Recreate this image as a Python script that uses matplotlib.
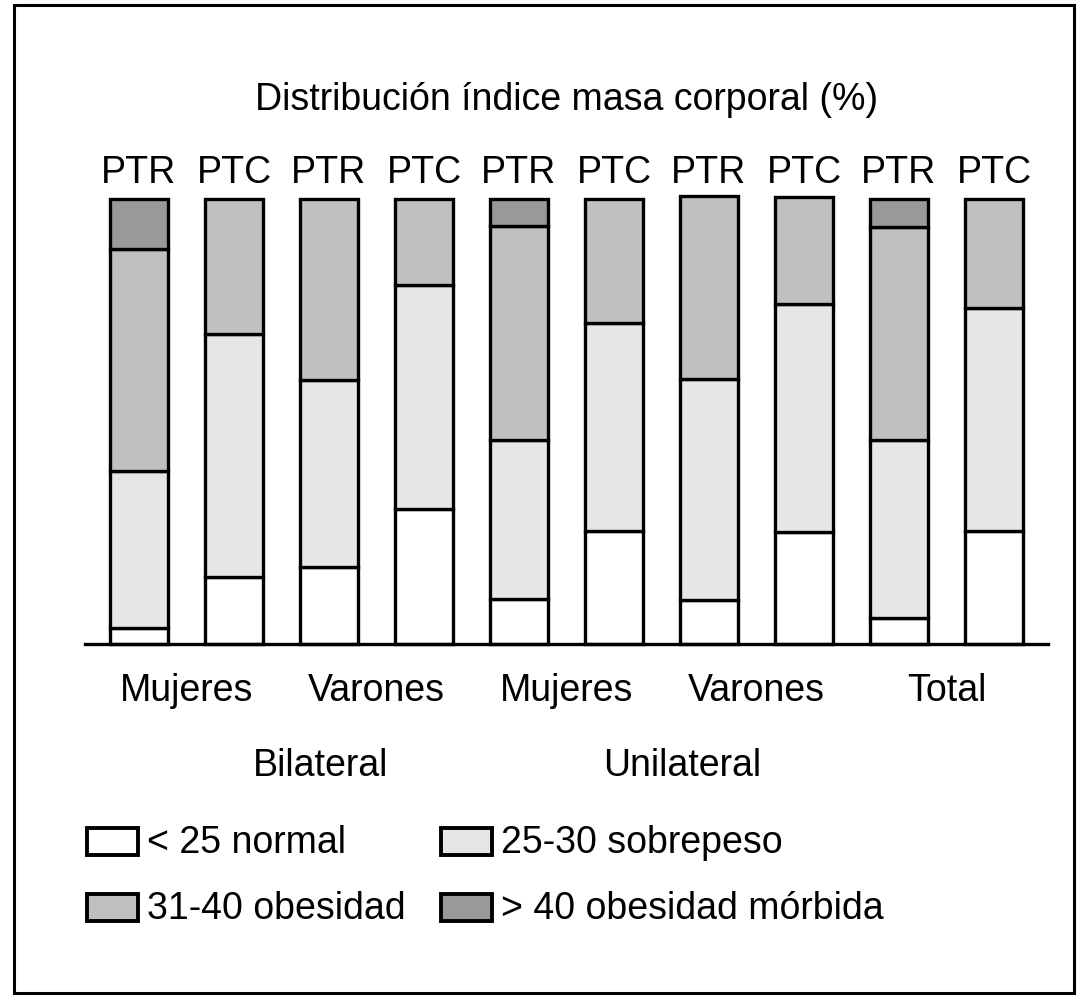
import matplotlib.pyplot as plt
import matplotlib.patches as mpatches
import numpy as np

plt.rcParams['font.family'] = ['Liberation Sans', 'DejaVu Sans']

# datos (%)
etiquetas = ['PTR', 'PTC', 'PTR', 'PTC', 'PTR', 'PTC', 'PTR', 'PTC', 'PTR', 'PTC']
grupos = ['Mujeres', 'Varones', 'Mujeres', 'Varones', 'Total']
normal = [3.6, 15.0, 17.3, 30.3, 10.1, 25.4, 9.9, 25.2, 5.8, 25.4]
sobrepeso = [35.3, 54.7, 42.0, 50.4, 35.7, 46.7, 49.7, 51.2, 40.0, 50.1]
obesidad = [49.9, 30.3, 40.7, 19.3, 48.1, 27.9, 41.1, 24.0, 47.9, 24.5]
morbida = [11.2, 0, 0, 0, 6.1, 0, 0, 0, 6.3, 0]

series = [normal, sobrepeso, obesidad, morbida]
colores = ['#ffffff', '#e6e6e6', '#c0c0c0', '#999999']
nombres = ['< 25 normal', '25-30 sobrepeso', '31-40 obesidad', '> 40 obesidad mórbida']

W, H = 1089, 1003
fig = plt.figure(figsize=(W / 100, H / 100), dpi=100)

def fx(px):
    return px / W

def fy(py):
    return 1 - py / H

ax = fig.add_axes([fx(85), fy(645), fx(1048) - fx(85), fy(200) - fy(645)])
x = np.arange(len(etiquetas))
base = np.zeros(len(etiquetas))
for vals, col in zip(series, colores):
    v = np.array(vals)
    m = v > 0
    ax.bar(x[m], v[m], bottom=base[m], width=0.61, color=col,
           edgecolor='black', linewidth=2.4, zorder=2, clip_on=False)
    base += v
ax.set_xlim(-0.568, 9.568)
ax.set_ylim(0, 100)
ax.axis('off')
ax.axhline(0, color='black', linewidth=2.4, zorder=3, clip_on=False)

fs = 27
fig.text(fx(567), fy(100), 'Distribución índice masa corporal (%)', ha='center', va='center', fontsize=fs)
for i, lab in enumerate(etiquetas):
    fig.text(fx(139 + 95 * i), fy(173), lab, ha='center', va='center', fontsize=fs)
for j, g in enumerate(grupos):
    fig.text(fx(186.5 + 190 * j), fy(691), g, ha='center', va='center', fontsize=fs)
fig.text(fx(321), fy(766), 'Bilateral', ha='center', va='center', fontsize=fs)
fig.text(fx(682), fy(766), 'Unilateral', ha='center', va='center', fontsize=fs)

# leyenda dibujada a mano
pos = [(87, 842), (441, 842), (87, 908), (441, 908)]
for (px, py), col, nom in zip(pos, colores, nombres):
    fig.patches.append(mpatches.Rectangle((fx(px), fy(py + 14)), fx(51), fy(0) - fy(27),
                                          transform=fig.transFigure, facecolor=col,
                                          edgecolor='black', linewidth=2.8))
    fig.text(fx(px + 60), fy(py + 1), nom, ha='left', va='center', fontsize=fs)

# marco exterior
fig.patches.append(mpatches.Rectangle((fx(14), fy(994)), fx(1074) - fx(14), fy(6) - fy(994),
                                      transform=fig.transFigure, facecolor='none',
                                      edgecolor='black', linewidth=2.2))

fig.savefig('out.png', dpi=100)
